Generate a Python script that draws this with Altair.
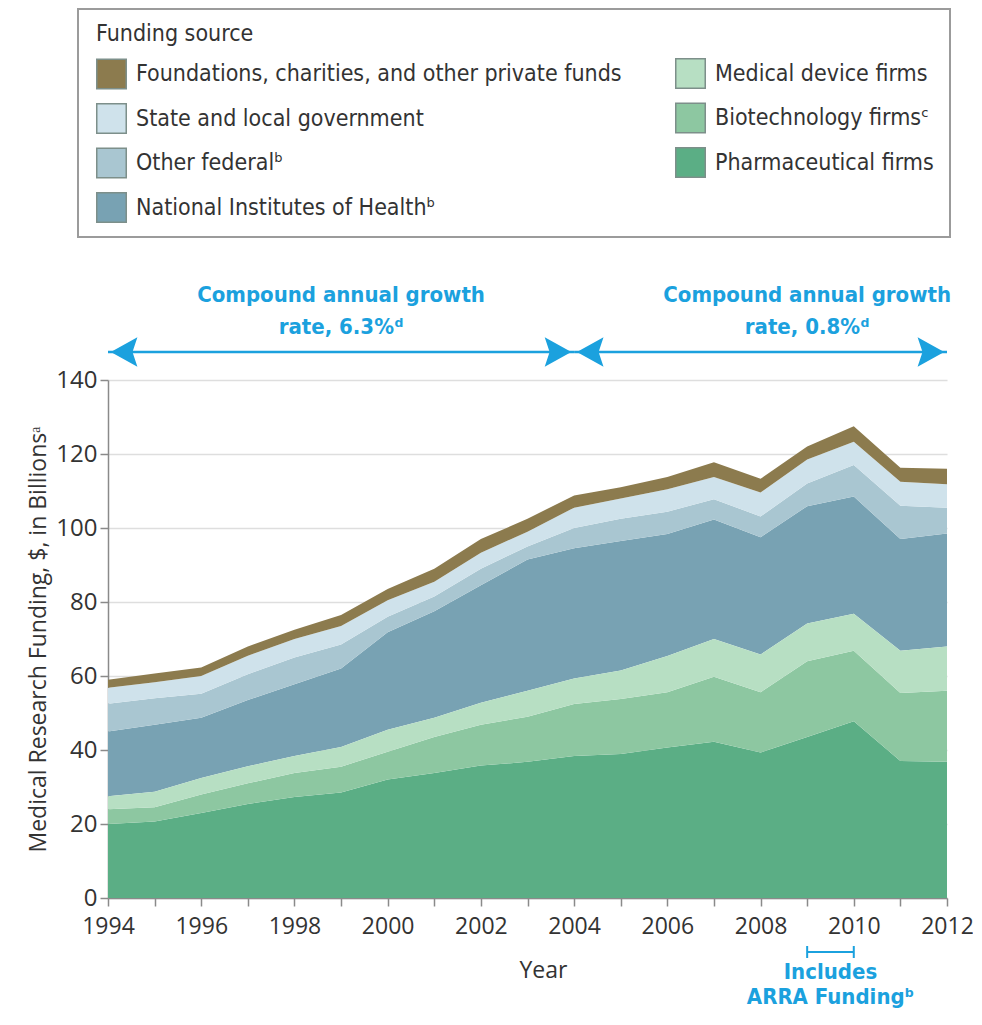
import altair as alt
import pandas as pd

# ---------------- data ----------------
years = list(range(1994, 2013))

pharma      = [20.0, 20.7, 23.0, 25.4, 27.3, 28.5, 32.0, 33.8, 35.8, 36.8, 38.4, 38.9, 40.7, 42.2, 39.3, 43.5, 47.8, 37.0, 36.8]
biotech     = [4.0, 3.8, 5.0, 5.6, 6.5, 7.0, 7.5, 9.7, 11.0, 12.2, 14.0, 14.9, 14.9, 17.6, 16.3, 20.5, 19.0, 18.4, 19.2]
device      = [3.5, 4.2, 4.4, 4.6, 4.6, 5.3, 6.0, 5.2, 6.0, 7.0, 6.9, 7.7, 9.8, 10.2, 10.2, 10.2, 10.0, 11.4, 12.0]
nih         = [17.5, 18.1, 16.3, 17.9, 19.4, 21.2, 26.3, 28.8, 31.7, 35.5, 35.2, 35.0, 33.0, 32.3, 31.7, 31.7, 31.7, 30.2, 30.5]
other_fed   = [7.5, 7.2, 6.5, 7.0, 7.2, 6.5, 4.2, 4.0, 4.5, 3.5, 5.5, 6.0, 6.0, 5.5, 5.6, 6.1, 8.5, 9.0, 7.0]
state_local = [4.3, 4.3, 4.8, 5.0, 5.0, 5.0, 4.5, 4.0, 4.3, 4.0, 5.5, 5.5, 6.1, 6.0, 6.5, 6.5, 6.3, 6.5, 6.3]
foundations = [2.2, 2.4, 2.3, 2.5, 2.5, 3.0, 3.0, 3.5, 3.7, 3.5, 3.3, 3.0, 3.3, 4.0, 3.7, 3.5, 4.2, 3.8, 4.2]

fund_names = ["Foundations, charities, and other private funds",
              "State and local government",
              "Other federal\u1d47",
              "National Institutes of Health\u1d47"]
firm_names = ["Medical device firms",
              "Biotechnology firms\u1d9c",
              "Pharmaceutical firms"]
fund_colors = ["#8C7B4E", "#CFE2EB", "#A9C6D1", "#78A2B3"]
firm_colors = ["#B7DFC3", "#8DC7A1", "#5BAE85"]

# stacking order: bottom to top
stack_series = [
    ("Pharmaceutical firms", "firm", pharma),
    ("Biotechnology firms\u1d9c", "firm", biotech),
    ("Medical device firms", "firm", device),
    ("National Institutes of Health\u1d47", "fund", nih),
    ("Other federal\u1d47", "fund", other_fed),
    ("State and local government", "fund", state_local),
    ("Foundations, charities, and other private funds", "fund", foundations),
]

growth_x = [1999, 2009]
growth_line1 = ["Compound annual growth", "Compound annual growth"]
growth_line2 = ["rate, 6.3%\u1d48", "rate, 0.8%\u1d48"]
arrow_start = [1994, 2004]
arrow_end = [2004, 2012]
left_heads = [1994, 2004]
right_heads = [2004, 2012]
arra_years = [2009, 2010]

y_ticks = [0, 20, 40, 60, 80, 100, 120, 140]

# ---------------- build tables ----------------
rows = []
for i, (name, grp, vals) in enumerate(stack_series):
    for y, v in zip(years, vals):
        rows.append({"year": y, "source": name, "group": grp, "value": v, "order": i})
df = pd.DataFrame(rows)

CYAN = "#1BA1DE"
AXFONT = "Open Sans"
CONDFONT = "DejaVu Sans Condensed, Liberation Sans Narrow, Roboto, sans-serif"

x_enc = alt.X("year:Q",
              scale=alt.Scale(domain=[1994, 2012], nice=False, zero=False),
              axis=alt.Axis(values=years, format="d", grid=False,
                            labelExpr="datum.value % 2 == 0 ? datum.label : ''",
                            labelFlush=False, labelOverlap=False, labelPadding=9,
                            title="Year", titleX=435, titleY=79,
                            titleBaseline="alphabetic", titleAlign="center"))
y_enc = alt.Y("y0:Q",
              scale=alt.Scale(domain=[0, 140], nice=False),
              axis=alt.Axis(values=y_ticks, grid=True, gridColor="#dedede", gridWidth=1.5,
                            labelFlush=False, labelPadding=3, labelFontSize=24,
                            title="Medical Research Funding, $, in Billions\u1d43",
                            titleX=-63, titleY=259, titleAngle=270,
                            titleBaseline="alphabetic", titleAlign="center"))

base = alt.Chart(df).transform_stack(
    stack="value", groupby=["year"], as_=["y0", "y1"],
    sort=[alt.SortField("order", order="ascending")]
)

area_fund = base.transform_filter(alt.datum.group == "fund").mark_area(opacity=1).encode(
    x=x_enc, y=y_enc, y2="y1:Q",
    color=alt.Color("source:N",
                    scale=alt.Scale(domain=fund_names, range=fund_colors),
                    legend=alt.Legend(title="Funding source", orient="none",
                                      legendX=-12, legendY=-357, direction="vertical",
                                      symbolType="square", symbolSize=870)),
)
area_firm = base.transform_filter(alt.datum.group == "firm").mark_area(opacity=1).encode(
    x=x_enc, y=y_enc, y2="y1:Q",
    color=alt.Color("source:N",
                    scale=alt.Scale(domain=firm_names, range=firm_colors),
                    legend=alt.Legend(title=None, orient="none",
                                      legendX=567, legendY=-322, direction="vertical",
                                      symbolType="square", symbolSize=870)),
)

# legend box
box = alt.Chart(pd.DataFrame({"box": [1]})).mark_rect(
    fillOpacity=0, stroke="#9b9b9b", strokeWidth=2
).encode(x=alt.value(-30), x2=alt.value(842), y=alt.value(-371), y2=alt.value(-143))

# growth arrows
arrows_df = pd.DataFrame({"s": arrow_start, "e": arrow_end})
arrow_lines = alt.Chart(arrows_df).mark_rule(color=CYAN, strokeWidth=2.5).encode(
    x="s:Q", x2="e:Q", y=alt.value(-28))

LEFT_HEAD = "M0.2,0 L2.1,-1.05 L1.75,0 L2.1,1.05 Z"
RIGHT_HEAD = "M-0.2,0 L-2.1,-1.05 L-1.75,0 L-2.1,1.05 Z"
lh = alt.Chart(pd.DataFrame({"x": left_heads})).mark_point(
    shape=LEFT_HEAD, filled=True, size=784, color=CYAN, opacity=1, strokeWidth=0
).encode(x="x:Q", y=alt.value(-28))
rh = alt.Chart(pd.DataFrame({"x": right_heads})).mark_point(
    shape=RIGHT_HEAD, filled=True, size=784, color=CYAN, opacity=1, strokeWidth=0
).encode(x="x:Q", y=alt.value(-28))

growth_df = pd.DataFrame({"x": growth_x, "l1": growth_line1, "l2": growth_line2})
gt1 = alt.Chart(growth_df).mark_text(
    font=CONDFONT, fontSize=22, fontWeight="bold", color=CYAN, baseline="middle", align="center"
).encode(x="x:Q", y=alt.value(-85), text="l1:N")
gt2 = alt.Chart(growth_df).mark_text(
    font=CONDFONT, fontSize=22, fontWeight="bold", color=CYAN, baseline="middle", align="center"
).encode(x="x:Q", y=alt.value(-53), text="l2:N")

# ARRA bracket
arra_df = pd.DataFrame({"a0": [arra_years[0]], "a1": [arra_years[1]],
                        "mid": [(arra_years[0] + arra_years[1]) / 2],
                        "t1": ["Includes"], "t2": ["ARRA Funding\u1d47"]})
arra_line = alt.Chart(arra_df).mark_rule(color=CYAN, strokeWidth=2).encode(
    x="a0:Q", x2="a1:Q", y=alt.value(572))
arra_ticks = alt.Chart(pd.DataFrame({"x": arra_years})).mark_rule(color=CYAN, strokeWidth=2).encode(
    x="x:Q", y=alt.value(566), y2=alt.value(578))
arra_t1 = alt.Chart(arra_df).mark_text(
    font=CONDFONT, fontSize=22, fontWeight="bold", color=CYAN, baseline="middle", align="center"
).encode(x="mid:Q", y=alt.value(592), text="t1:N")
arra_t2 = alt.Chart(arra_df).mark_text(
    font=CONDFONT, fontSize=22, fontWeight="bold", color=CYAN, baseline="middle", align="center"
).encode(x="mid:Q", y=alt.value(617), text="t2:N")

chart = alt.layer(
    area_fund, area_firm, box, arrow_lines, lh, rh, gt1, gt2,
    arra_line, arra_ticks, arra_t1, arra_t2
).resolve_scale(color="independent").properties(
    width=839, height=518,
    padding={"left": 100, "top": 372, "right": 26, "bottom": 115},
    autosize=alt.AutoSizeParams(type="none"),
).configure_view(strokeWidth=0).configure_axis(
    labelFont=AXFONT, titleFont=AXFONT, labelFontSize=23, titleFontSize=23,
    labelColor="#333333", titleColor="#333333", titleFontWeight="normal",
    tickColor="#8a8a8a", domainColor="#8a8a8a", tickSize=8, tickWidth=1.5, domainWidth=1.5,
).configure_legend(
    labelFont=CONDFONT, titleFont=CONDFONT, labelFontSize=23, titleFontSize=23,
    titleFontWeight="normal", labelColor="#333333", titleColor="#333333",
    symbolStrokeWidth=1.5, symbolStrokeColor="#7d8f8a", symbolOpacity=1,
    rowPadding=7.5, titlePadding=12.5, labelOffset=9, padding=0, labelLimit=700,
)

chart.save("out.html", embed_options={"renderer": "svg", "actions": False})
